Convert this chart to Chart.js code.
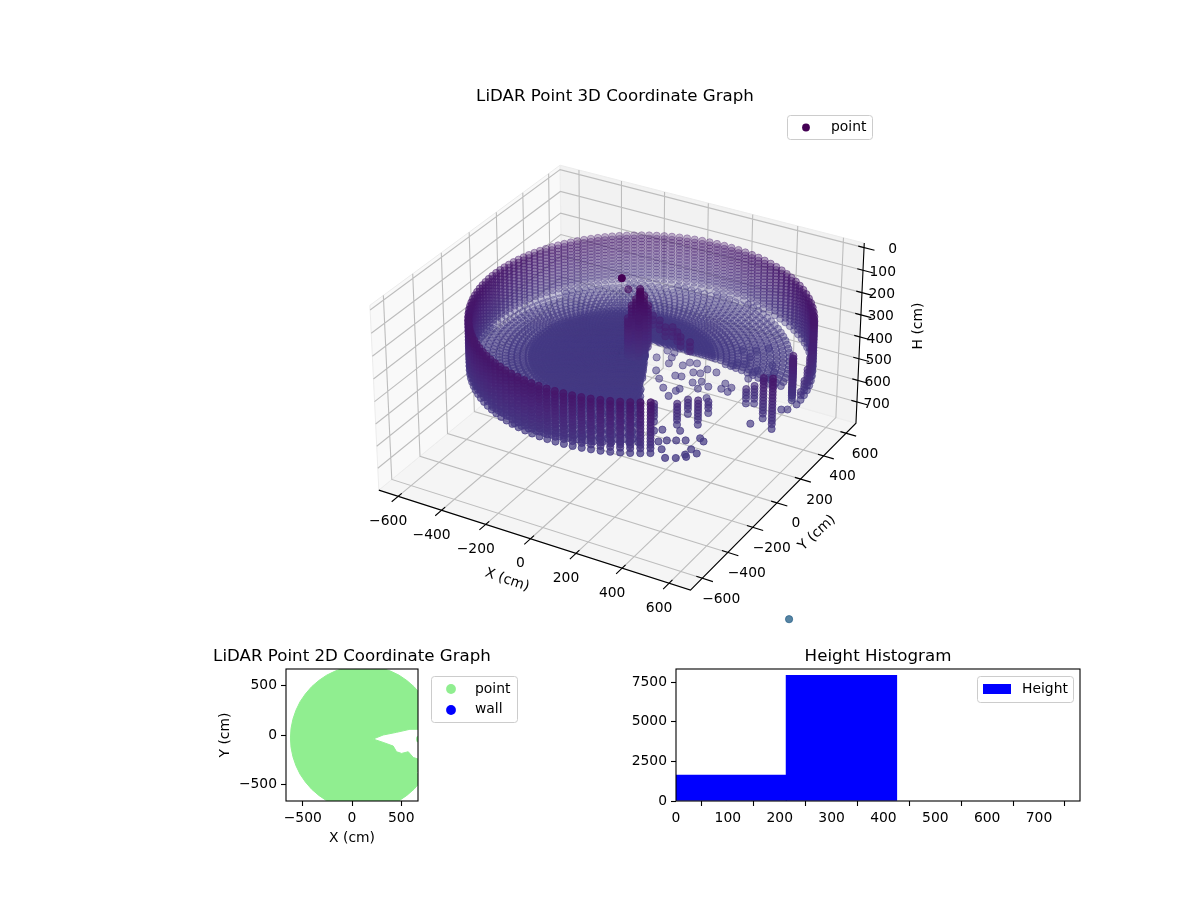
<!DOCTYPE html>
<html><head><meta charset="utf-8">
<style>html,body{margin:0;padding:0;background:#fff}canvas{position:absolute}</style>
<script src="https://cdn.jsdelivr.net/npm/chart.js@4/dist/chart.umd.js"></script>
</head><body>
<canvas id="c3d" width="1200" height="900" style="left:0;top:0"></canvas>
<canvas id="c2d" width="424" height="220" style="left:140px;top:640px"></canvas>
<canvas id="chist" width="516" height="200" style="left:620px;top:640px"></canvas>
<script>
// ---------- data ----------
const xTicks3d=[-600,-400,-200,0,200,400,600];
const yTicks3d=[-600,-400,-200,0,200,400,600];
const hTicks3d=[0,100,200,300,400,500,600,700];
const xLimits=[-690,690], yLimits=[-690,690], hLimits=[-20,800];
// scan directions seen from the sensor; the wall is hit between wallFrom and wallTo
const scanAzimuth=[0,2.88,5.76,8.64,11.52,14.4,17.28,20.16,23.04,25.92,28.8,31.68,34.56,37.44,40.32,43.2,46.08,48.96,51.84,54.72,57.6,60.48,63.36,66.24,69.12,72,74.88,77.76,80.64,83.52,86.4,89.28,92.16,95.04,97.92,100.8,103.68,106.56,109.44,112.32,115.2,118.08,120.96,123.84,126.72,129.6,132.48,135.36,138.24,141.12,144,146.88,149.76,152.64,155.52,158.4,161.28,164.16,167.04,169.92,172.8,175.68,178.56,181.44,184.32,187.2,190.08,192.96,195.84,198.72,201.6,204.48,207.36,210.24,213.12,216,218.88,221.76,224.64,227.52,230.4,233.28,236.16,239.04,241.92,244.8,247.68,250.56,253.44,256.32,259.2,262.08,264.96,267.84,270.72,273.6,276.48,279.36,282.24,285.12,288,290.88,293.76,296.64,299.52,302.4,305.28,308.16,311.04,313.92,316.8,319.68,322.56,325.44,328.32,331.2,334.08,336.96,339.84,342.72,345.6,348.48,351.36,354.24,357.12];
const wallFrom=20, wallTo=309;
const wallCentre=[100,-25];
const wallRadius=660;
const wallRows=[120,134,148,162,176,190,204,218,232,246,260,274,288,302,316,337];
// the wall's top edge drops toward its open end
const wallEndAzimuth=[17.28,14.4,11.52,8.64,5.76,2.88,0];
const wallEndTop=[150,180,210,240,270,300,325];
// floor rings seen from the sensor
const floorH=340;
const floorRadii=[24,37,50,63,76,89,102,115,128,141,154,167,180,193,206,219,232,245,258,271,284,297,310,323,336,349,362,384,406,428,450,475,500,525,550,575,600,625,650];
const ringStagger=[0,1.44];
// floor area left empty by the shadow of the obstacle
const holeX=[22,339,687,800,420,216];
const holeY=[163,149,56,-200,-600,-234];
// isolated floor returns
const sparseX=[125,135,167,176,189,243,256,283,340,381,304,331,256,280,366,406,339,379,456,451,486,488,314,319,309,261,214,173,441,411,421,450,502,511,509,542,572,575,433,386,469,437,725,745,387,410,471,439,462,522,492,561,583,476,570,602,569,517,551,580];
const sparseY=[53,121,120,82,36,49,82,90,69,66,22,29,-34,-28,-24,-45,-47,-78,-34,8,-8,-42,-134,-113,-181,-137,-85,-36,-123,145,169,177,136,159,85,221,176,133,293,266,331,232,-58,-46,-431,-409,-383,-490,-468,-433,-451,-393,-407,-532,-478,-494,-522,-579,-560,-534];
// partial wall columns in the open sector
const colX=[697,761,618,591,675,502,509,439,442,356,705,714,722,730];
const colY=[-155,-206,-74,-89,-212,-222,-316,-266,-355,-377,70,52,35,18];
const colTop=[159,114,250,268,325,277,222,268,236,259,173,173,173,173];
// obstacle near the sensor
const pillarX=[75,85,66,61,48,75,102,115,95,55];
const pillarY=[10,-5,23,-30,-37,-22,-7,1,-35,-45];
const pillarTop=[32,32,49,79,131,53,36,79,120,150];
const pillarBottom=[300,300,300,320,300,320,300,270,320,300];
const pillarRows=[32,46,60,74,88,102,116,130,144,158,172,186,200,214,228,242,256,270,284,300,320];
const trailX=[16,89,131,176,200,235,314,264];
const trailY=[134,86,65,29,43,18,-26,-9];
const trailRows=[180,200,220];
const extraX=[0,20,1103];
const extraY=[0,15,-702];
const extraH=[0,50,780];
const colourH=[0,120,220,340,780];
const colourRGB=[[68,1,84],[70,22,106],[71,38,120],[68,57,131],[49,104,142]];
// 2D view outline
const blobX=[747,693,630,557,478,391,300,206,110,14,-80,-171,-258,-337,-410,-473,-527,-569,-600,-619,-625,-619,-600,-569,-527,-473,-410,-337,-258,-171,-80,14,110,206,300,391,478,557,630,693,747,656,690,690,700,660,656,660,700,700,673,622,571,503,452,418,316,214,316,452,588,673,700];
const blobY=[338,417,490,553,607,649,680,699,705,699,680,649,607,553,490,417,338,251,160,66,-30,-126,-220,-311,-398,-477,-550,-613,-667,-709,-740,-759,-765,-759,-740,-709,-667,-613,-550,-477,-398,-391,-300,-245,-68,-68,-40,-17,-17,-245,-245,-228,-170,-187,-170,-112,-75,-41,0,27,58,58,58];
const xTicks2d=[-500,0,500], yTicks2d=[-500,0,500];
// histogram
const histCentres=[106,319];
const histCounts=[1640,7940];
const histXTicks=[0,100,200,300,400,500,600,700];
const histYTicks=[0,2500,5000,7500];

// ---------- helpers ----------
const FONT='"DejaVu Sans"';
Chart.defaults.font.family=FONT;
Chart.defaults.font.size=13.89;
Chart.defaults.color='#000';
Chart.defaults.animation=false;
Chart.defaults.devicePixelRatio=1;
const box=[1.1905,1.1905,0.71];
function project(x,y,h){
  const dx=((x-xLimits[0])/(xLimits[1]-xLimits[0])-.5)*box[0];
  const dy=((y-yLimits[0])/(yLimits[1]-yLimits[0])-.5)*box[1];
  const dz=(.5-(h-hLimits[0])/(hLimits[1]-hLimits[0]))*box[2];
  const u=.866025*dx+.5*dy, v=-.25*dx+.433013*dy+.866025*dz, w=.433013*dx-.75*dy+.5*dz;
  const D=10-w;
  return {x:u/D,y:v/D,D};
}
function colourFor(h,alpha){
  let i=0; while(i<colourH.length-2&&h>colourH[i+1])i++;
  const t=Math.max(0,Math.min(1,(h-colourH[i])/(colourH[i+1]-colourH[i])));
  const c=colourRGB[i].map((v,k)=>Math.round(v+(colourRGB[i+1][k]-v)*t));
  return `rgba(${c[0]},${c[1]},${c[2]},${alpha})`;
}
function inHole(x,y){
  let inside=false;
  for(let i=0,j=holeX.length-1;i<holeX.length;j=i++){
    if((holeY[i]>y)!==(holeY[j]>y)&&x<(holeX[j]-holeX[i])*(y-holeY[i])/(holeY[j]-holeY[i])+holeX[i])inside=!inside;
  }
  return inside;
}
function wallRange(ca,sa){
  const b=wallCentre[0]*ca+wallCentre[1]*sa, c2=wallCentre[0]**2+wallCentre[1]**2;
  return b+Math.sqrt(b*b+wallRadius*wallRadius-c2);
}
const cloud=[];
function addWallColumn(a,top){
  const r=a*Math.PI/180,ca=Math.cos(r),sa=Math.sin(r),d=wallRange(ca,sa);
  wallRows.forEach(h=>{if(h>=top)cloud.push([d*ca,d*sa,h]);});
}
scanAzimuth.filter(a=>a>=wallFrom&&a<=wallTo).forEach(a=>addWallColumn(a,0));
wallEndAzimuth.forEach((a,i)=>addWallColumn(a,wallEndTop[i]));
floorRadii.forEach((rad,n)=>scanAzimuth.forEach(a=>{
  const r=(a+ringStagger[n%2])*Math.PI/180,x=rad*Math.cos(r),y=rad*Math.sin(r);
  if(Math.hypot(x-wallCentre[0],y-wallCentre[1])<wallRadius-12&&!inHole(x,y))cloud.push([x,y,floorH]);
}));
sparseX.forEach((x,i)=>cloud.push([x,sparseY[i],floorH]));
colX.forEach((x,i)=>wallRows.forEach(h=>{if(h>=colTop[i])cloud.push([x,colY[i],h]);}));
pillarX.forEach((x,i)=>pillarRows.forEach(h=>{if(h>=pillarTop[i]&&h<=pillarBottom[i])cloud.push([x,pillarY[i],h]);}));
trailX.forEach((x,i)=>trailRows.forEach(h=>cloud.push([x,trailY[i],h])));
extraX.forEach((x,i)=>cloud.push([x,extraY[i],extraH[i]]));
const projected=cloud.map(p=>({p,q:project(p[0],p[1],p[2])})).sort((a,b)=>b.q.D-a.q.D);
const cloudData=projected.map(o=>({x:o.q.x,y:o.q.y}));
const cloudColours=projected.map(o=>{
  const near=(10.45-o.q.D)/0.9;
  const alpha=o.p[2]<5?1:Math.min(.88,.24+.45*near);
  return colourFor(o.p[2],alpha.toFixed(3));
});
function segs(list){const out=[];list.forEach(s=>{s.forEach(pt=>{const q=project(pt[0],pt[1],pt[2]);out.push({x:q.x,y:q.y});});out.push({x:NaN,y:NaN});});return out;}
const [x0,x1]=xLimits,[y0,y1]=yLimits,[h0,h1]=hLimits;
const poly=pts=>{const s=pts.map(p=>{const q=project(p[0],p[1],p[2]);return{x:q.x,y:q.y};});s.push(s[0]);return s;};
const gridLines=[];
xTicks3d.forEach(v=>{gridLines.push([[v,y0,h1],[v,y1,h1],[v,y1,h0]]);});
yTicks3d.forEach(v=>{gridLines.push([[x1,v,h1],[x0,v,h1],[x0,v,h0]]);});
hTicks3d.forEach(v=>{gridLines.push([[x0,y0,v],[x0,y1,v],[x1,y1,v]]);});
const tickLines=[];
xTicks3d.forEach(v=>tickLines.push([[v,y0-45,h1],[v,y0+25,h1]]));
yTicks3d.forEach(v=>tickLines.push([[x1+45,v,h1],[x1-25,v,h1]]));
hTicks3d.forEach(v=>tickLines.push([[x1-25,y1,v],[x1+45,y1,v]]));
const axisLines=[[[x0,y0,h1],[x1,y0,h1],[x1,y1,h1],[x1,y1,h0]]];
const lineDs=(label,data,color,w,order)=>({label,data,showLine:true,borderColor:color,borderWidth:w,pointRadius:0,fill:false,order,spanGaps:false});
const paneDs=(label,pts,color,order)=>({label,data:poly(pts),showLine:true,borderColor:'#ececec',borderWidth:1,backgroundColor:color,pointRadius:0,fill:'shape',order});

function legendBox(ctx,x,y,w,h){
  ctx.save();ctx.beginPath();ctx.roundRect(x+.5,y+.5,w,h,3);
  ctx.fillStyle='rgba(255,255,255,.8)';ctx.fill();ctx.strokeStyle='#ccc';ctx.lineWidth=1;ctx.stroke();ctx.restore();
}
function text(ctx,s,x,y,opt={}){
  ctx.save();ctx.font=(opt.size||13.89)+'px '+FONT;ctx.fillStyle='#000';ctx.textAlign=opt.align||'center';ctx.textBaseline='middle';
  ctx.translate(x,y);if(opt.rot)ctx.rotate(opt.rot*Math.PI/180);ctx.fillText(s,0,0);ctx.restore();
}
const minus=v=>String(v).replace('-','\u2212');

const labels3d={id:'labels3d',afterDraw(c){
  const ctx=c.ctx,sx=c.scales.x,sy=c.scales.y;
  const P=(x,y,h)=>{const q=project(x,y,h);return[sx.getPixelForValue(q.x),sy.getPixelForValue(q.y)];};
  text(ctx,'LiDAR Point 3D Coordinate Graph',615,97,{size:16.67});
  xTicks3d.forEach(v=>{const p=P(v,y0,h1);text(ctx,minus(v),p[0]-10,p[1]+25);});
  yTicks3d.forEach(v=>{const p=P(x1,v,h1);text(ctx,minus(v),p[0]+19,p[1]+21);});
  hTicks3d.forEach(v=>{const p=P(x1,y1,v);text(ctx,minus(v),p[0]+33,p[1]+2,{align:'right'});});
  text(ctx,'X (cm)',507,580,{rot:19});
  text(ctx,'Y (cm)',817,533,{rot:-43});
  text(ctx,'H (cm)',918,326,{rot:-90});
  legendBox(ctx,787,115,85,24);
  ctx.save();ctx.fillStyle='#440154';ctx.beginPath();ctx.arc(806,127.5,3.9,0,7);ctx.fill();ctx.restore();
  text(ctx,'point',831,127,{align:'left'});
}};
new Chart(document.getElementById('c3d'),{type:'scatter',plugins:[labels3d],
  data:{datasets:[
    {label:'point',data:cloudData,pointBackgroundColor:cloudColours,pointBorderColor:cloudColours,pointBorderWidth:1,pointRadius:3.6,showLine:false,order:0},
    lineDs('axes',segs(axisLines),'#000',1.1,1),
    lineDs('ticks',segs(tickLines),'#000',1.1,1),
    lineDs('grid',segs(gridLines),'#bdbdbd',1.1,2),
    paneDs('paneX',[[x0,y0,h0],[x0,y1,h0],[x0,y1,h1],[x0,y0,h1]],'#f9f9f9',3),
    paneDs('paneY',[[x0,y1,h0],[x1,y1,h0],[x1,y1,h1],[x0,y1,h1]],'#f2f2f2',3),
    paneDs('paneH',[[x0,y0,h1],[x1,y0,h1],[x1,y1,h1],[x0,y1,h1]],'#f5f5f5',3)
  ]},
  options:{responsive:false,events:[],layout:{padding:0},
    plugins:{legend:{display:false},tooltip:{enabled:false}},
    scales:{x:{display:false,min:-622/3010,max:578/3010},y:{display:false,min:(365.5-900)/3000,max:365.5/3000}}}
});

const frame={id:'frame',afterDraw(c){const a=c.chartArea,ctx=c.ctx;ctx.save();ctx.strokeStyle='#000';ctx.lineWidth=1.1;ctx.strokeRect(a.left,a.top,a.right-a.left,a.bottom-a.top);ctx.restore();}};
const axisOpts=(ticks,extra)=>Object.assign({type:'linear',grid:{display:true,drawOnChartArea:false,drawTicks:true,tickLength:5,tickColor:'#000',tickWidth:1.1},border:{display:false},
  afterBuildTicks(s){s.ticks=ticks.map(value=>({value}));},
  ticks:{autoSkip:false,maxRotation:0,padding:4,callback:v=>minus(v)}},extra);

const legend2d={id:'legend2d',afterDraw(c){
  const ctx=c.ctx;legendBox(ctx,291,36,86,46);
  ctx.save();ctx.fillStyle='#90ee90';ctx.beginPath();ctx.arc(311,49,4.9,0,7);ctx.fill();
  ctx.fillStyle='#0000ff';ctx.beginPath();ctx.arc(311,70,4.9,0,7);ctx.fill();ctx.restore();
  text(ctx,'point',335,49,{align:'left'});text(ctx,'wall',335,69,{align:'left'});
  text(ctx,'LiDAR Point 2D Coordinate Graph',212,17,{size:16.67});
}};
new Chart(document.getElementById('c2d'),{type:'scatter',plugins:[frame,legend2d],
  data:{datasets:[
    {label:'point',data:blobX.map((x,i)=>({x,y:blobY[i]})),showLine:true,fill:'shape',backgroundColor:'#90ee90',borderColor:'#90ee90',borderWidth:1,pointRadius:0},
    {label:'wall',data:[],backgroundColor:'#0000ff'}
  ]},
  options:{responsive:false,events:[],layout:{padding:{left:77,right:146,top:29,bottom:13}},
    plugins:{legend:{display:false},tooltip:{enabled:false}},
    scales:{
      x:axisOpts(xTicks2d,{min:-670,max:670,title:{display:true,text:'X (cm)',padding:0},afterFit(s){s.height=46;}}),
      y:axisOpts(yTicks2d,{min:-670,max:670,title:{display:true,text:'Y (cm)',padding:0},afterFit(s){s.width=69;}})
    }}
});

const legendHist={id:'legendHist',afterDraw(c){
  const ctx=c.ctx;legendBox(ctx,357,36,96,26);
  ctx.save();ctx.fillStyle='#0000ff';ctx.fillRect(363,44,28,10);ctx.restore();
  text(ctx,'Height',402,49,{align:'left'});
  text(ctx,'Height Histogram',258,17,{size:16.67});
}};
new Chart(document.getElementById('chist'),{type:'bar',plugins:[frame,legendHist],
  data:{datasets:[{label:'Height',data:histCentres.map((x,i)=>({x,y:histCounts[i]})),backgroundColor:'#0000ff',barThickness:110.7}]},
  options:{responsive:false,events:[],layout:{padding:{left:0,right:56,top:29,bottom:0}},
    plugins:{legend:{display:false},tooltip:{enabled:false}},
    scales:{
      x:axisOpts(histXTicks,{min:0,max:779,offset:false,afterFit(s){s.height=39;}}),
      y:axisOpts(histYTicks,{min:0,max:8337,afterFit(s){s.width=56;}})
    }}
});
</script></body></html>
